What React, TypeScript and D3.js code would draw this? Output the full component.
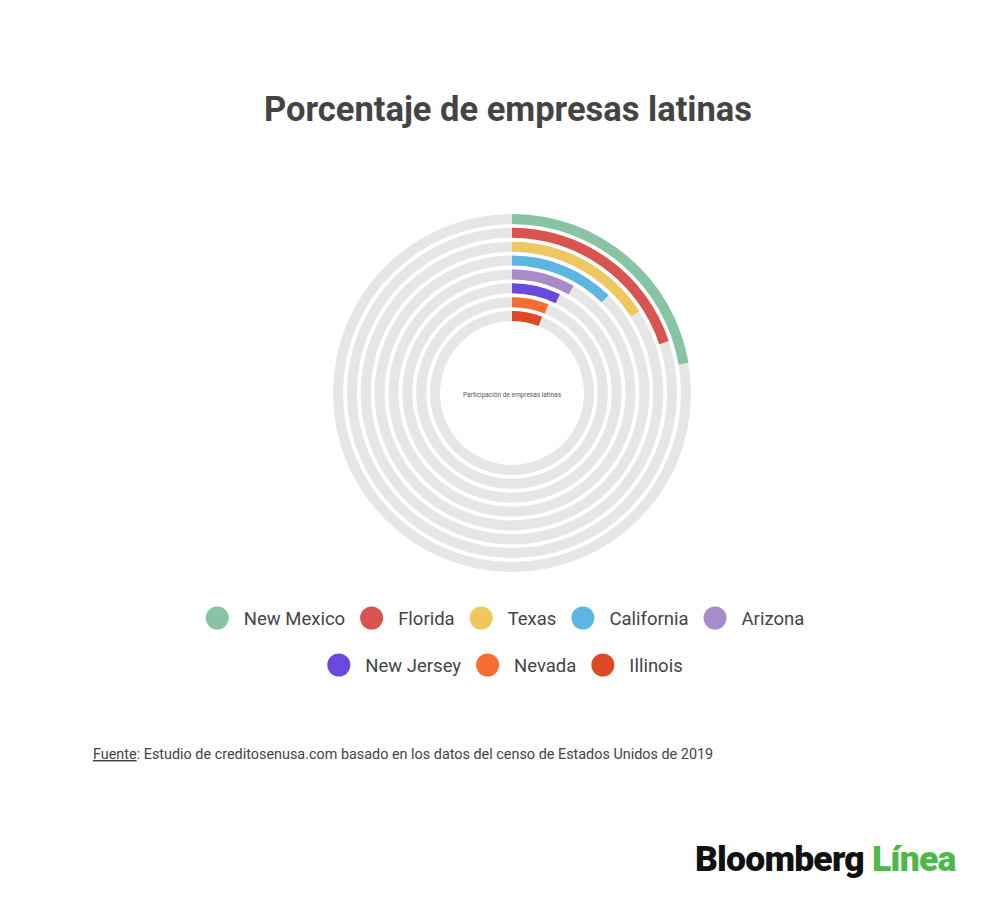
import React from "react";
import * as d3 from "d3";

const states = [
  "New Mexico",
  "Florida",
  "Texas",
  "California",
  "Arizona",
  "New Jersey",
  "Nevada",
  "Illinois",
];
const shares = [22.3, 19.9, 15.9, 12.4, 8.3, 7.2, 6.2, 6.0];
const colors = [
  "#86c4a3",
  "#d9534f",
  "#eec75e",
  "#5db6e2",
  "#a98bca",
  "#6a4ade",
  "#f96c33",
  "#de4a25",
];
const legendRows = [states.slice(0, 5), states.slice(5)];

const width = 1000;
const height = 902;
const cx = 512;
const cy = 393;
const legendFont = 18.5;

// measure label widths so the legend lines up like the original
const ctx = document.createElement("canvas").getContext("2d")!;
ctx.font = `${legendFont}px Roboto`;
const textW = (s: string) => ctx.measureText(s).width;

const App = () => {
  const r = d3
    .scaleBand<string>()
    .domain(states)
    .range([179, 72])
    .paddingInner(0.28)
    .paddingOuter(0);
  const angle = d3.scaleLinear().domain([0, 100]).range([0, 2 * Math.PI]);
  const arc = d3.arc<any>();

  const color = d3.scaleOrdinal<string, string>().domain(states).range(colors);

  // circle (23) + gap to text (15) + label + gap to next item (15)
  const itemW = (name: string) => 38 + textW(name) + 15;
  const legendY = [618, 665];

  return (
    <svg
      width={width}
      height={height}
      style={{ position: "absolute", left: 0, top: 0, background: "#fff" }}
      fontFamily="Roboto, sans-serif"
    >
      <text
        x={508}
        y={121}
        textAnchor="middle"
        fontSize={34.5}
        fontWeight={700}
        fill="#444"
      >
        Porcentaje de empresas latinas
      </text>

      <g transform={`translate(${cx},${cy})`}>
        {states.map((s) => (
          <path
            key={"bg" + s}
            d={
              arc({
                innerRadius: r(s)!,
                outerRadius: r(s)! + r.bandwidth(),
                startAngle: 0,
                endAngle: 2 * Math.PI,
              }) as string
            }
            fill="#e6e6e6"
          />
        ))}
        {states.map((s, i) => (
          <path
            key={"fg" + s}
            d={
              arc({
                innerRadius: r(s)!,
                outerRadius: r(s)! + r.bandwidth(),
                startAngle: 0,
                endAngle: angle(shares[i]),
              }) as string
            }
            fill={color(s)}
          />
        ))}
        <text x={0} y={4} textAnchor="middle" fontSize={6.5} fill="#555">
          Participación de empresas latinas
        </text>
      </g>

      {legendRows.map((row, ri) => {
        const total = d3.sum(row, itemW) - 15;
        let x = 505 - total / 2;
        return (
          <g key={ri}>
            {row.map((s) => {
              const x0 = x;
              x += itemW(s);
              return (
                <g key={s} transform={`translate(${x0},${legendY[ri]})`}>
                  <circle cx={11.5} cy={0} r={11.5} fill={color(s)} />
                  <text x={38} y={6.5} fontSize={legendFont} fill="#444">
                    {s}
                  </text>
                </g>
              );
            })}
          </g>
        );
      })}

      <text x={93} y={759} fontSize={14.4} fill="#444">
        <tspan textDecoration="underline">Fuente</tspan>
        : Estudio de creditosenusa.com basado en los datos del censo de Estados
        Unidos de 2019
      </text>

      <text x={695} y={871} fontSize={35.5} fontWeight={900} letterSpacing={-0.8}>
        <tspan fill="#111">Bloomberg </tspan>
        <tspan fill="#4cb848">Línea</tspan>
      </text>
    </svg>
  );
};

export default App;
